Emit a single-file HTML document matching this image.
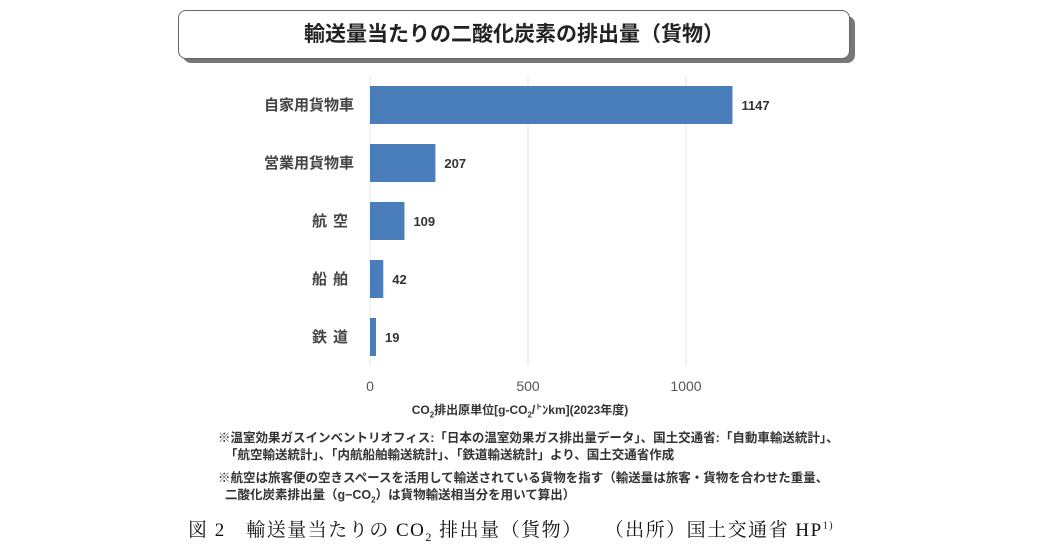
<!DOCTYPE html>
<html><head><meta charset="utf-8"><style>
body{margin:0;width:1051px;height:551px;background:#fff;position:relative;overflow:hidden;font-family:"Liberation Sans","Noto Sans CJK JP",sans-serif;}
.abs{position:absolute;}
</style></head><body>
<div class="abs" style="left:183px;top:16px;width:672px;height:47px;background:#777;border-radius:8px"></div>
<div class="abs" style="left:178px;top:10px;width:670px;height:47px;background:#fff;border:1.5px solid #666;border-radius:8px;text-align:center;line-height:47px;font-size:21px;font-weight:bold;color:#222">輸送量当たりの二酸化炭素の排出量（貨物）</div>
<svg class="abs" style="left:0;top:0" width="1051" height="551">
<g id="grid"></g><g id="bars"></g><g id="labels"></g>
</svg>
<div class="abs" style="left:370px;top:401px;width:300px;text-align:center;font-size:12px;font-weight:bold;color:#333">CO<sub style="font-size:8px">2</sub>排出原単位[g-CO<sub style="font-size:8px">2</sub>/<sup style="font-size:7px">ト</sup>ﾝkm](2023年度)</div>
<div class="abs" style="left:218px;top:430px;font-size:12.5px;font-weight:bold;color:#333;line-height:17px">※温室効果ガスインベントリオフィス:「日本の温室効果ガス排出量データ」、国土交通省:「自動車輸送統計」、<br>&nbsp;&nbsp;「航空輸送統計」、「内航船舶輸送統計」、「鉄道輸送統計」より、国土交通省作成</div>
<div class="abs" style="left:218px;top:470px;font-size:12.5px;font-weight:bold;color:#333;line-height:17px">※航空は旅客便の空きスペースを活用して輸送されている貨物を指す（輸送量は旅客・貨物を合わせた重量、<br>&nbsp;&nbsp;二酸化炭素排出量（g−CO<sub style="font-size:8px">2</sub>）は貨物輸送相当分を用いて算出）</div>
<div class="abs" style="left:188px;top:515px;font-family:'Liberation Serif','Noto Serif CJK SC',serif;font-size:19px;letter-spacing:1.5px;color:#111;white-space:pre">図 2　輸送量当たりの CO<sub style="font-size:12px">2</sub> 排出量（貨物）　　（出所）国土交通省 HP<sup style="font-size:10px">1)</sup></div>
<script>
const categories=["自家用貨物車","営業用貨物車","航空","船舶","鉄道"];
const values=[1147,207,109,42,19];
const ticks=[0,500,1000];
const x0=370,pxPer=158/500,top0=76,band=58,barH=38;
const xs=v=>x0+v*pxPer;
const NS="http://www.w3.org/2000/svg";
const g=document.getElementById('grid'),b=document.getElementById('bars'),l=document.getElementById('labels');
function mk(tag,attrs,parent,txt){const e=document.createElementNS(NS,tag);for(const k in attrs)e.setAttribute(k,attrs[k]);if(txt!==undefined)e.textContent=txt;parent.appendChild(e);return e;}
ticks.forEach(t=>{
 const ln=mk('line',{x1:xs(t),x2:xs(t),y1:top0,y2:top0+band*5,stroke:'#e4e4e4','stroke-width':1},g);
 
 
 const tx=mk('text',{x:xs(t),y:391,'text-anchor':'middle','font-size':14,fill:'#555'},l,String(t));
 
 
});
categories.forEach((c,i)=>{
 const cy=top0+band*i+band/2;
 const r=mk('rect',{x:x0,y:cy-barH/2,width:xs(values[i])-x0,height:barH,fill:'#4a7ebb'},b);
 
 
 const ct=mk('text',{x:354,y:cy+5,'text-anchor':'end','font-size':15,fill:'#444','font-weight':'bold','letter-spacing':c.length<=2?'6':'0'},l,c);
 
 
 const vt=mk('text',{x:xs(values[i])+9,y:cy+5,'font-size':13,fill:'#333','font-weight':'bold'},l,String(values[i]));
 
 
});
</script>
</body></html>
